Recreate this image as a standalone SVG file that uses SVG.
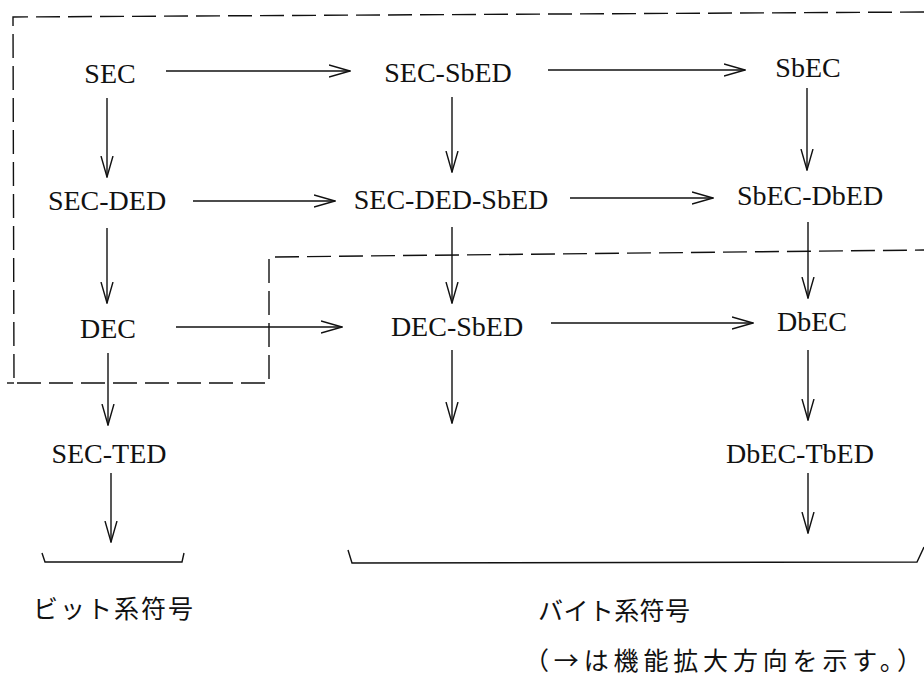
<svg xmlns="http://www.w3.org/2000/svg" width="924" height="680" viewBox="0 0 924 680">
<style>
.n{font-family:"Liberation Serif","Times New Roman",serif;font-size:28px;fill:#111;text-anchor:middle}
.j{font-family:"Noto Sans CJK JP",sans-serif;font-size:25px;fill:#111}
.c{stroke:#111;stroke-width:1.4;fill:none}
.d{stroke:#111;stroke-width:1.4;fill:none;stroke-dasharray:24 8}
</style>
<defs>
<marker id="ah" viewBox="0 0 22 14" markerWidth="22" markerHeight="14" refX="21" refY="7" orient="auto" markerUnits="userSpaceOnUse">
<path d="M0,1 L21,7 L0,13" fill="none" stroke="#111" stroke-width="1.4"/>
</marker>
</defs>
<rect width="924" height="680" fill="#fff"/>
<g id="regions">
<polyline class="d" points="924,12 13,17 14,383 269,383 269,257 924,250"/>
<line class="d" x1="7" y1="383" x2="14" y2="383"/>
</g>
<g id="connectors">
<line class="c" x1="166" y1="71" x2="350" y2="71" marker-end="url(#ah)"/>
<line class="c" x1="548" y1="70" x2="745" y2="70" marker-end="url(#ah)"/>
<line class="c" x1="193" y1="201" x2="335" y2="201" marker-end="url(#ah)"/>
<line class="c" x1="570" y1="198" x2="713" y2="198" marker-end="url(#ah)"/>
<line class="c" x1="176" y1="327" x2="342" y2="327" marker-end="url(#ah)"/>
<line class="c" x1="551" y1="323" x2="753" y2="323" marker-end="url(#ah)"/>
<line class="c" x1="107" y1="98" x2="107" y2="177" marker-end="url(#ah)"/>
<line class="c" x1="452" y1="97" x2="452" y2="172" marker-end="url(#ah)"/>
<line class="c" x1="807" y1="88" x2="807" y2="170" marker-end="url(#ah)"/>
<line class="c" x1="107" y1="228" x2="107" y2="303" marker-end="url(#ah)"/>
<line class="c" x1="452" y1="227" x2="452" y2="303" marker-end="url(#ah)"/>
<line class="c" x1="808" y1="222" x2="808" y2="298" marker-end="url(#ah)"/>
<line class="c" x1="108" y1="353" x2="108" y2="425" marker-end="url(#ah)"/>
<line class="c" x1="452" y1="350" x2="452" y2="423" marker-end="url(#ah)"/>
<line class="c" x1="808" y1="350" x2="808" y2="420" marker-end="url(#ah)"/>
<line class="c" x1="111" y1="473" x2="111" y2="542" marker-end="url(#ah)"/>
<line class="c" x1="808" y1="473" x2="808" y2="533" marker-end="url(#ah)"/>
</g>
<g id="n-sec"><text class="n" x="110" y="83">SEC</text></g>
<g id="n-sec-sbed"><text class="n" x="448" y="82">SEC-SbED</text></g>
<g id="n-sbec"><text class="n" x="808" y="77">SbEC</text></g>
<g id="n-sec-ded"><text class="n" x="107" y="210">SEC-DED</text></g>
<g id="n-sec-ded-sbed"><text class="n" x="451" y="209">SEC-DED-SbED</text></g>
<g id="n-sbec-dbed"><text class="n" x="810" y="205">SbEC-DbED</text></g>
<g id="n-dec"><text class="n" x="108" y="338">DEC</text></g>
<g id="n-dec-sbed"><text class="n" x="457" y="336">DEC-SbED</text></g>
<g id="n-dbec"><text class="n" x="812" y="331">DbEC</text></g>
<g id="n-sec-ted"><text class="n" x="109" y="463">SEC-TED</text></g>
<g id="n-dbec-tbed"><text class="n" x="800" y="463">DbEC-TbED</text></g>
<g id="bit-group">
<polyline class="c" points="42,553 45,562 182,562 184,553"/>
<text class="j" x="33" y="618" textLength="160" lengthAdjust="spacing">ビット系符号</text>
</g>
<g id="byte-group">
<polyline class="c" points="348,550 352,563 917,562 924,547"/>
<text class="j" x="538" y="620" textLength="152" lengthAdjust="spacing">バイト系符号</text>
</g>
<g id="note">
<text class="j" x="524" y="670" font-size="27" textLength="398" lengthAdjust="spacing">（→は機能拡大方向を示す。）</text>
</g>
</svg>
